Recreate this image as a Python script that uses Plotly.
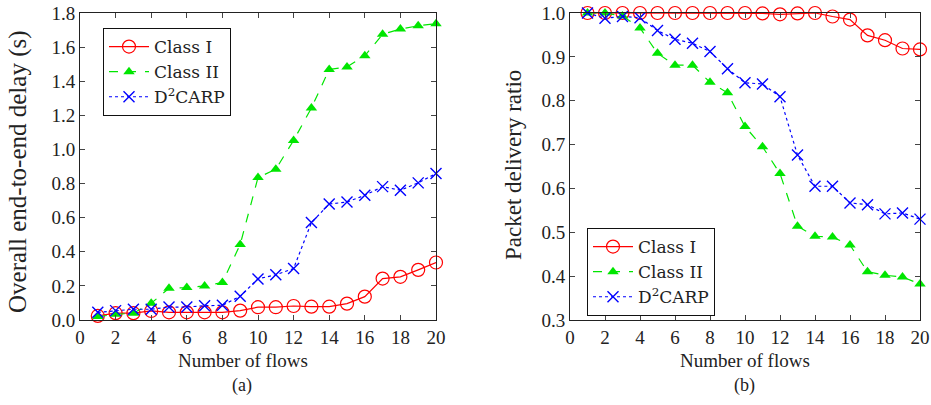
import plotly.graph_objects as go

flows = list(range(1, 21))

delay_class1 = [0.024, 0.04, 0.04, 0.053, 0.045, 0.045, 0.045, 0.045, 0.055, 0.075,
                0.075, 0.082, 0.078, 0.078, 0.096, 0.137, 0.243, 0.253, 0.294, 0.337]
delay_class2 = [0.02, 0.033, 0.04, 0.098, 0.186, 0.19, 0.2, 0.22, 0.443, 0.835,
                0.884, 1.053, 1.243, 1.469, 1.484, 1.549, 1.675, 1.706, 1.725, 1.737]
delay_d2carp = [0.045, 0.055, 0.063, 0.063, 0.076, 0.076, 0.084, 0.086, 0.139, 0.241,
                0.265, 0.302, 0.571, 0.68, 0.692, 0.731, 0.782, 0.761, 0.804, 0.859]

pdr_class1 = [1.0, 1.0, 1.0, 1.0, 1.0, 1.0, 1.0, 1.0, 1.0, 1.0,
              0.999, 0.997, 0.999, 1.0, 0.992, 0.985, 0.949, 0.938, 0.919, 0.917]
pdr_class2 = [1.0, 1.0, 0.993, 0.966, 0.908, 0.881, 0.881, 0.842, 0.818, 0.741,
              0.695, 0.634, 0.514, 0.491, 0.489, 0.471, 0.41, 0.402, 0.398, 0.382]
pdr_d2carp = [1.0, 0.988, 0.992, 0.989, 0.96, 0.94, 0.931, 0.912, 0.873, 0.841,
              0.838, 0.809, 0.676, 0.605, 0.605, 0.567, 0.563, 0.542, 0.544, 0.53]

names = ["Class I", "Class II", "D<sup>2</sup>CARP"]
x_ticks = list(range(0, 21, 2))
delay_ticks = [0.0, 0.2, 0.4, 0.6, 0.8, 1.0, 1.2, 1.4, 1.6, 1.8]
pdr_ticks = [0.3, 0.4, 0.5, 0.6, 0.7, 0.8, 0.9, 1.0]

FONT = "Liberation Serif"
LEG_FONT = "DejaVu Serif"
RED, GREEN, BLUE = "#ff0000", "#00e600", "#0000ff"

styles = [
    dict(line=dict(color=RED, width=1.2, dash="solid"),
         marker=dict(symbol="circle-open", size=13, color=RED, line=dict(width=1.2))),
    dict(line=dict(color=GREEN, width=1.2, dash="dash"),
         marker=dict(symbol="triangle-up", size=10, color=GREEN)),
    dict(line=dict(color=BLUE, width=1.2, dash="dot"),
         marker=dict(symbol="x-thin-open", size=11, color=BLUE, line=dict(width=1.4, color=BLUE))),
]

fig = go.Figure()
for i, ys in enumerate([delay_class1, delay_class2, delay_d2carp]):
    fig.add_trace(go.Scatter(x=flows, y=ys, name=names[i], mode="lines+markers",
                             xaxis="x", yaxis="y", legend="legend", cliponaxis=False,
                             **styles[i]))
for i, ys in enumerate([pdr_class1, pdr_class2, pdr_d2carp]):
    fig.add_trace(go.Scatter(x=flows, y=ys, name=names[i], mode="lines+markers",
                             xaxis="x2", yaxis="y2", legend="legend2", cliponaxis=False,
                             **styles[i]))

ydom = [1 - 320 / 405, 1 - 13 / 405]
axis_common = dict(showline=True, linecolor="#222", linewidth=1, mirror="ticks",
                   ticks="inside", ticklen=5, tickcolor="#444", showgrid=False,
                   zeroline=False, automargin=False,
                   tickfont=dict(family=FONT, size=19, color="#222"))

def ann(text, x, y, size, angle=0):
    return dict(text=text, x=x / 931, y=1 - y / 405, xref="paper", yref="paper",
                showarrow=False, textangle=angle, xanchor="center", yanchor="middle",
                font=dict(family=FONT, size=size, color="#222"))

legend_common = dict(xanchor="left", yanchor="top", bordercolor="#111", borderwidth=1,
                     bgcolor="white", font=dict(family=LEG_FONT, size=17, color="#222"),
                     tracegroupgap=0, itemwidth=40)

fig.update_layout(
    width=931, height=405,
    margin=dict(l=0, r=0, t=0, b=0),
    paper_bgcolor="white", plot_bgcolor="white",
    font=dict(family=FONT, color="#222"),
    xaxis=dict(domain=[80 / 931, 436 / 931], range=[0, 20], tickvals=x_ticks,
               anchor="y", **axis_common),
    yaxis=dict(domain=ydom, range=[0, 1.8], tickvals=delay_ticks, tickformat=".1f",
               anchor="x", **axis_common),
    xaxis2=dict(domain=[570 / 931, 920 / 931], range=[0, 20], tickvals=x_ticks,
                anchor="y2", **axis_common),
    yaxis2=dict(domain=ydom, range=[0.3, 1.0], tickvals=pdr_ticks, tickformat=".1f",
                anchor="x2", **axis_common),
    legend=dict(x=103 / 931, y=1 - 28 / 405, **legend_common),
    legend2=dict(x=587 / 931, y=1 - 228 / 405, **legend_common),
    annotations=[
        ann("Overall end-to-end delay (s)", 18, 172, 25, -90),
        ann("Packet delivery ratio", 513, 165, 23, -90),
        ann("Number of flows", 243, 360, 19),
        ann("Number of flows", 745, 360, 19),
        ann("(a)", 242, 385, 18),
        ann("(b)", 744, 385, 18),
    ],
)

fig.write_html("out.html", config={"displayModeBar": False},
               post_script="document.body.style.margin='0';document.body.style.overflow='hidden';")
